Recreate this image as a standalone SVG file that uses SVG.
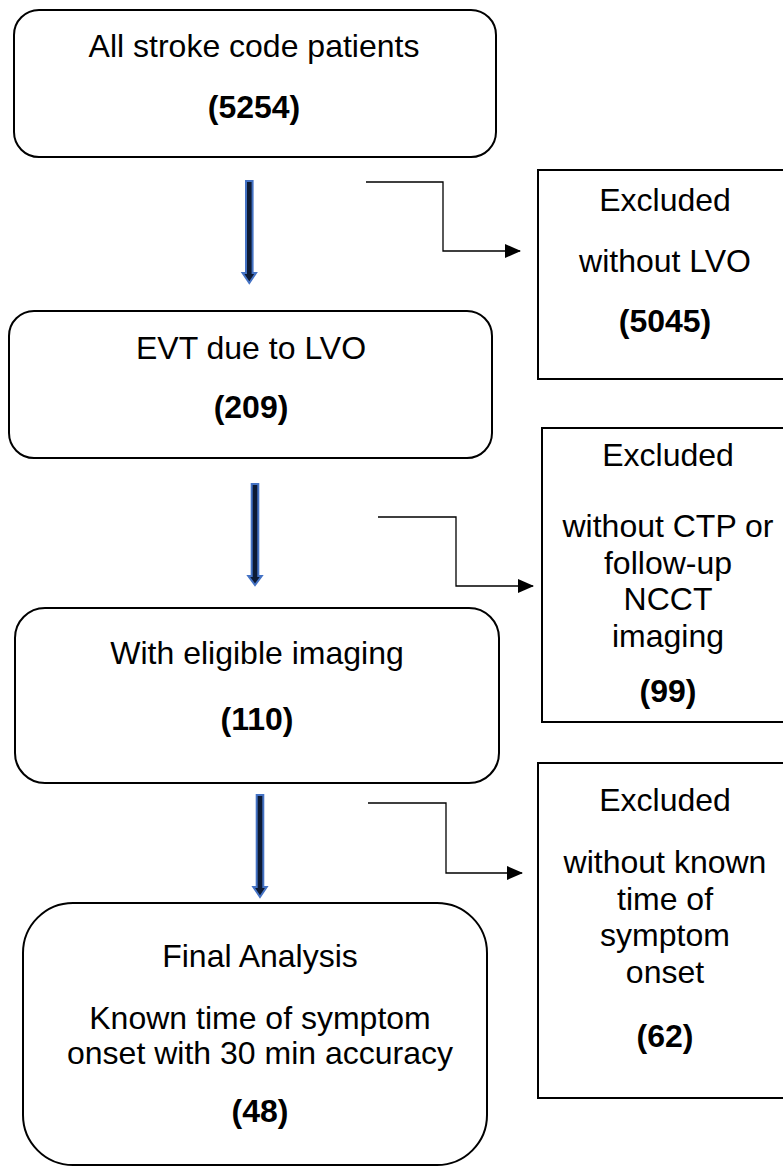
<svg xmlns="http://www.w3.org/2000/svg" width="783" height="1167" viewBox="0 0 783 1167">
<style>
.box{fill:#fff;stroke:#000;stroke-width:2}
.t{font-family:"Liberation Sans",Arial,sans-serif;font-size:32px;fill:#000;text-anchor:middle}
.b{font-weight:bold}
.elbow{fill:none;stroke:#000;stroke-width:1.3}
.blue{fill:#0d1a33;stroke:#4472C4;stroke-width:2;stroke-linejoin:miter}
</style>
<defs>
<marker id="ah" markerWidth="16" markerHeight="14" refX="15" refY="7" orient="auto" markerUnits="userSpaceOnUse">
<path d="M0,0 L16,7 L0,14 Z" fill="#000"/>
</marker>
</defs>
<rect width="783" height="1167" fill="#fff"/>
<g id="n1">
<rect class="box" x="14" y="10" width="482" height="147" rx="25"/>
<text class="t" x="254" y="57">All stroke code patients</text>
<text class="t b" x="254" y="118">(5254)</text>
</g>
<g id="n2">
<rect class="box" x="9" y="311" width="483" height="147" rx="25"/>
<text class="t" x="251" y="359">EVT due to LVO</text>
<text class="t b" x="251" y="418">(209)</text>
</g>
<g id="n3">
<rect class="box" x="15" y="608" width="484" height="175" rx="30"/>
<text class="t" x="257" y="664">With eligible imaging</text>
<text class="t b" x="257" y="730">(110)</text>
</g>
<g id="n4">
<rect class="box" x="23" y="903" width="464" height="262" rx="50"/>
<text class="t" x="260" y="967">Final Analysis</text>
<text class="t" x="260" y="1029">Known time of symptom</text>
<text class="t" x="260" y="1064">onset with 30 min accuracy</text>
<text class="t b" x="260" y="1122">(48)</text>
</g>
<g id="e1">
<rect class="box" x="538" y="170" width="270" height="209"/>
<text class="t" x="665" y="211">Excluded</text>
<text class="t" x="665" y="272">without LVO</text>
<text class="t b" x="665" y="332">(5045)</text>
</g>
<g id="e2">
<rect class="box" x="542" y="428" width="270" height="294"/>
<text class="t" x="668" y="466">Excluded</text>
<text class="t" x="668" y="537">without CTP or</text>
<text class="t" x="668" y="574">follow-up</text>
<text class="t" x="668" y="610">NCCT</text>
<text class="t" x="668" y="647">imaging</text>
<text class="t b" x="668" y="702">(99)</text>
</g>
<g id="e3">
<rect class="box" x="538" y="763" width="270" height="335"/>
<text class="t" x="665" y="811">Excluded</text>
<text class="t" x="665" y="873">without known</text>
<text class="t" x="665" y="910">time of</text>
<text class="t" x="665" y="946">symptom</text>
<text class="t" x="665" y="983">onset</text>
<text class="t b" x="665" y="1047">(62)</text>
</g>
<g id="connectors">
<polygon class="blue" points="246,181 252.6,181 252.6,273 256,273 249.3,283 242.6,273 246,273"/>
<polygon class="blue" points="251.7,484 258.3,484 258.3,576 261.7,576 255,585 248.3,576 251.7,576"/>
<polygon class="blue" points="256.7,795 263.3,795 263.3,887 266.7,887 260,897 253.3,887 256.7,887"/>
<polyline class="elbow" points="366,182 443,182 443,251 520,251" marker-end="url(#ah)"/>
<polyline class="elbow" points="378,517 456,517 456,586 533,586" marker-end="url(#ah)"/>
<polyline class="elbow" points="368,803 446,803 446,873 522,873" marker-end="url(#ah)"/>
</g>
</svg>
